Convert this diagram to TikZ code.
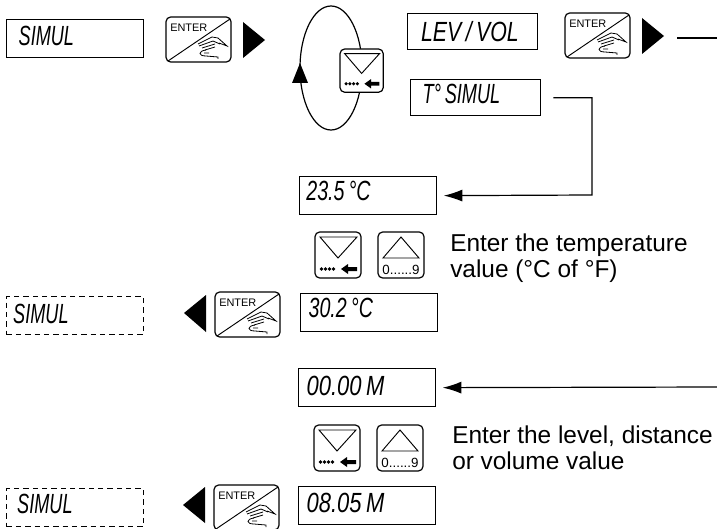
\documentclass[tikz,border=0pt]{standalone}
\usepackage{graphicx}
\usepackage{fontspec}
\setmainfont{Liberation Sans}
\usetikzlibrary{arrows.meta}
\newcommand{\lcdtext}[4][.85]{\hspace*{#2}\raisebox{#3}{\scalebox{#1}[1.3]{\fontsize{16}{16}\selectfont\itshape #4}}}
\tikzset{
  lcd/.style={draw,line width=1pt,anchor=north west,inner ysep=0pt,inner xsep=0pt,align=left,minimum height=28.5pt,text width=102.5pt},
  lcdshort/.style={lcd,minimum height=27pt,text width=97.5pt},
  lcddash/.style={lcd,dashed,dash pattern=on 4pt off 3pt,line width=.8pt},
  note/.style={anchor=north west,inner sep=0pt,align=left,font=\fontsize{18.3}{19.5}\selectfont},
  bigtri/.style={fill=black,draw=none},
  wire/.style={line width=.9pt},
  keybody/.style={draw,fill=white,line width=.9pt,rounded corners=3.5pt},
  enterkey/.pic={
    \draw[keybody] (0,0) rectangle (65,45);
    \draw[line width=.7pt] (2,44) -- (64,2);
    \node[anchor=west,inner sep=0pt,font=\fontsize{8.2}{8.2}\selectfont] (-label) at (4,10.5) {ENTER};
    \draw[line width=.6pt] (32,27) -- (46,20) -- (52,21) -- (61,29) -- (53,26) (33,29) -- (47,24) -- (54,27) (36,31) -- (49,27) (39,33) -- (49,30);
    \draw[line width=.6pt] (40,33) .. controls (32,34) and (32,39) .. (40,39) -- (52,40) -- (52,42) (38,36) -- (43,36);
  },
  downkey/.pic={
    \draw[keybody] (0,0) rectangle (46,46);
    \draw[line width=.7pt] (5,5) -- (42,5) -- (23,26) -- cycle;
    \foreach \dotx in {6.5,10.5,14.5,18.5}
      \fill (\dotx,37) circle (1.9);
    \fill (26,37) -- (33,32) -- (33,35) -- (42,35) -- (42,39) -- (33,39) -- (33,42) -- cycle;
  },
  upkey/.pic={
    \draw[keybody] (0,0) rectangle (46,46);
    \draw[line width=.7pt] (23,5) -- (41,26) -- (5,26) -- cycle;
    \node[inner sep=0pt,font=\fontsize{10}{10}\selectfont] (-label) at (23,38) {0......9};
  }
}
\begin{document}
\begin{tikzpicture}[x=.75pt,y=-.75pt]
\useasboundingbox (0,0) rectangle (717,528);
\node[lcd] (simulA) at (6,19) {\lcdtext{9pt}{4pt}{SIMUL}};
\pic (enterA) at (166,17) {enterkey};
\fill[bigtri] (243,22) -- (265,40) -- (243,58) -- cycle;
\draw[wire] (331,68) ellipse (31 and 62);
\fill[bigtri] (300,63) -- (308,83) -- (292,83) -- cycle;
\pic[scale=.94] (downA) at (340,49) {downkey};
\node[lcdshort] (levvol) at (407,13) {\lcdtext[1.0]{10pt}{1pt}{LEV / VOL}};
\pic (enterB) at (565,13) {enterkey};
\fill[bigtri] (642,18) -- (664,36) -- (642,54) -- cycle;
\coordinate (levout) at (717,38);
\coordinate (levstart) at (677,38);
\draw[wire] (levstart) -- (levout);
\node[lcdshort] (tsimul) at (410,79) {\lcdtext{9pt}{6pt}{T° SIMUL}};
\node[lcd] (tempin) at (299,176) {\lcdtext[.92]{5pt}{8pt}{23.5 °C}};
\coordinate (bend) at (592,195);
\draw[wire,shorten <=9pt,shorten >=5pt,-{Latex[length=14pt,width=9pt]}] (tsimul.east) -- (bend |- tsimul.east) -- (bend) -- (tempin.east);
\pic (downB) at (315,232) {downkey};
\pic (upB) at (378,232) {upkey};
\node[note] (notetemp) at (450,234) {Enter the temperature\\value (°C of °F)};
\node[lcddash] (simulB) at (6,296) {\lcdtext{5pt}{2pt}{SIMUL}};
\fill[bigtri] (206,295) -- (184,313) -- (206,332) -- cycle;
\pic (enterC) at (215,292) {enterkey};
\node[lcd] (tempout) at (300,293) {\lcdtext[.92]{6pt}{8pt}{30.2 °C}};
\node[lcd] (levin) at (298,368) {\lcdtext[1.03]{6pt}{3pt}{00.00 M}};
\coordinate (levend) at (717,387);
\draw[wire,shorten >=5pt,-{Latex[length=14pt,width=9pt]}] (levend) -- (levin.east);
\pic (downC) at (314,425) {downkey};
\pic (upC) at (377,425) {upkey};
\node[note] (notelev) at (452,426) {Enter the level, distance\\or volume value};
\node[lcddash] (simulC) at (6,488) {\lcdtext{8pt}{6pt}{SIMUL}};
\fill[bigtri] (205,487) -- (183,505) -- (205,523) -- cycle;
\pic (enterD) at (214,485) {enterkey};
\node[lcd] (levres) at (298,486) {\lcdtext[1.03]{6pt}{4pt}{08.05 M}};
\end{tikzpicture}
\end{document}
